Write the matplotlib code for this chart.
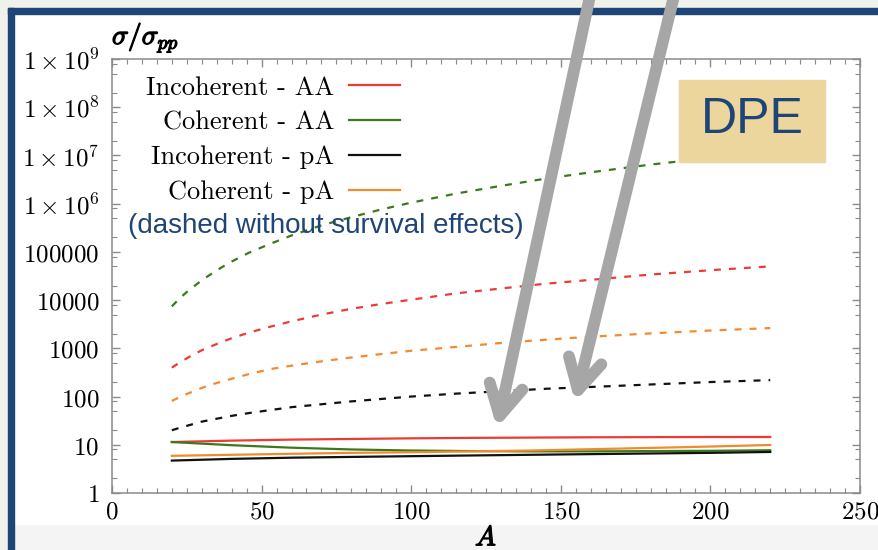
import matplotlib
matplotlib.use("Agg")
import matplotlib.pyplot as plt
import matplotlib.patheffects as pe
from matplotlib.patches import Rectangle, FancyArrowPatch
from matplotlib.ticker import FixedLocator, FixedFormatter, MultipleLocator, LogLocator, NullFormatter

plt.rcParams['mathtext.fontset'] = 'cm'

# --- data ---
A_dash = [20, 23, 26, 30, 35, 40, 46, 53, 60, 70, 80, 90, 100, 115, 130, 145, 160, 180, 200, 220]
inc_AA_dash = [398, 525, 676, 912, 1230, 1620, 2140, 2820, 3630, 5010, 6610, 8320, 10200,
               13800, 17400, 21900, 26300, 33900, 41700, 50100]
coh_AA_dash = [7410, 11500, 16600, 25700, 41700, 63100, 97700, 148000, 219000, 355000, 525000,
               759000, 1050000, 1620000, 2340000, 3310000, 4470000, 6460000, 8910000, 12000000]
inc_pA_dash = [20, 22.9, 25.7, 30.2, 34.7, 39.8, 45.7, 52.5, 60.3, 69.2, 79.4, 89.1, 100,
               115, 129, 145, 158, 178, 200, 219]
coh_pA_dash = [81, 100, 120, 151, 191, 234, 295, 372, 437, 537, 646, 759, 891, 1070, 1290,
               1510, 1740, 2040, 2340, 2630]

A_solid = [20, 40, 60, 80, 100, 120, 140, 160, 180, 200, 220]
inc_AA = [11.4, 12.2, 12.8, 13.2, 13.6, 13.9, 14.1, 14.3, 14.4, 14.5, 14.5]
coh_AA = [11.4, 9.8, 8.7, 8.0, 7.6, 7.4, 7.3, 7.3, 7.4, 7.5, 7.7]
inc_pA = [4.7, 5.1, 5.4, 5.6, 5.8, 6.0, 6.2, 6.4, 6.6, 6.8, 7.1]
coh_pA = [5.9, 6.2, 6.5, 6.8, 7.0, 7.3, 7.6, 8.1, 8.6, 9.2, 9.9]

labels = ["Incoherent - AA", "Coherent - AA", "Incoherent - pA", "Coherent - pA"]
colors = ["#ec3b34", "#3b7a1c", "#111111", "#f28a30"]

ytick_vals = [1, 10, 100, 1000, 10000, 100000, 1e6, 1e7, 1e8, 1e9]
ytick_text = ["1", "10", "100", "1000", "10000", "100000",
              r"1\times10^{6}", r"1\times10^{7}", r"1\times10^{8}", r"1\times10^{9}"]
xtick_vals = [0, 50, 100, 150, 200, 250]

W, H = 879, 550
fig = plt.figure(figsize=(W / 100, H / 100), dpi=100)

def fx(px):
    return px / W

def fy(py):
    return 1 - py / H

# slide background, white panel, blue frame
fig.add_artist(Rectangle((0, 0), 1, 1, transform=fig.transFigure, color="#f1f1ec", zorder=-10))
fig.add_artist(Rectangle((fx(14), fy(550)), 1, fy(14) - fy(550), transform=fig.transFigure,
                         color="#f4f4f4", zorder=-9))
fig.add_artist(Rectangle((fx(14), fy(524)), 1, fy(14) - fy(524), transform=fig.transFigure,
                         color="white", zorder=-8))
fig.add_artist(Rectangle((fx(8), fy(550)), fx(6), fy(8) - fy(550), transform=fig.transFigure,
                         color="#1f4577", zorder=-7))
fig.add_artist(Rectangle((fx(8), fy(14)), 1, fy(8) - fy(14), transform=fig.transFigure,
                         color="#1f4577", zorder=-7))

ax = fig.add_axes([fx(112), fy(493), fx(748), fy(59) - fy(493)])

lw_d = 1.6
dash = (0, (5.0 / lw_d, 5.8 / lw_d))
series_dash = [inc_AA_dash, coh_AA_dash, inc_pA_dash, coh_pA_dash]
series_solid = [inc_AA, coh_AA, inc_pA, coh_pA]
for ys, c in zip(series_dash, colors):
    ax.plot(A_dash, ys, color=c, lw=lw_d, linestyle=dash)
for ys, c, lab in zip(series_solid, colors, labels):
    ax.plot(A_solid, ys, color=c, lw=1.6, label=lab)

ax.set_yscale("log")
ax.set_xlim(0, 250)
ax.set_ylim(1, 1e9)

ax.yaxis.set_major_locator(FixedLocator(ytick_vals))
ax.yaxis.set_major_formatter(FixedFormatter(["$" + t + "$" for t in ytick_text]))
ax.yaxis.set_minor_locator(LogLocator(base=10, subs=[2, 5, 8], numticks=20))
ax.yaxis.set_minor_formatter(NullFormatter())
ax.set_xticks(xtick_vals)
ax.set_xticklabels([f"${v}$" for v in xtick_vals])
ax.xaxis.set_minor_locator(MultipleLocator(5))

for s in ax.spines.values():
    s.set_color("#8a8a8a")
    s.set_linewidth(1.1)
ax.tick_params(which="both", direction="in", color="#8a8a8a", top=True, right=True, labelsize=18)
ax.tick_params(which="major", length=6, width=1.0)
ax.tick_params(which="minor", length=3.5, width=0.8)
ax.tick_params(axis="y", pad=9)
ax.tick_params(axis="x", pad=5)

stroke = [pe.withStroke(linewidth=0.9, foreground="black")]
ax.set_ylabel(r"$\sigma/\sigma_{pp}$", rotation=0, ha="left", va="bottom", fontsize=20,
              path_effects=stroke)
ax.yaxis.set_label_coords(0.0, 1.010)
ax.set_xlabel(r"$A$", fontsize=20, va="top", path_effects=stroke)
ax.xaxis.set_label_coords(0.5, -0.070)

leg = ax.legend(loc="upper right", bbox_to_anchor=((400 - 112) / 748, (493 - 76) / 434),
                frameon=False, markerfirst=False, prop={"family": "cmr10", "size": 19},
                handlelength=1.95, handletextpad=0.55, labelspacing=0.42, borderpad=0,
                borderaxespad=0)

fig.text(fx(128), fy(226), "(dashed without survival effects)", color="#1f4577",
         fontsize=20, family="Liberation Sans", ha="left", va="center")

# DPE box
fig.add_artist(Rectangle((fx(679), fy(162)), fx(146), fy(80) - fy(162), transform=fig.transFigure,
                         color="#ecd69e", zorder=5))
fig.text(fx(752), fy(120), "DPE", color="#1f4577", fontsize=36, family="Liberation Sans",
         ha="center", va="center", zorder=6)

# gray arrows
for (x0, y0), (x1, y1) in [((590, -4), (497, 428)), ((674, -4), (575, 402))]:
    arr = FancyArrowPatch((fx(x0), fy(y0)), (fx(x1), fy(y1)), transform=fig.transFigure,
                          arrowstyle="->,head_length=22,head_width=12", mutation_scale=1,
                          color="#a6a6a6", lw=8.5, capstyle="round", joinstyle="round",
                          shrinkA=0, shrinkB=0, zorder=10)
    fig.add_artist(arr)

fig.savefig("out.png", dpi=100)
